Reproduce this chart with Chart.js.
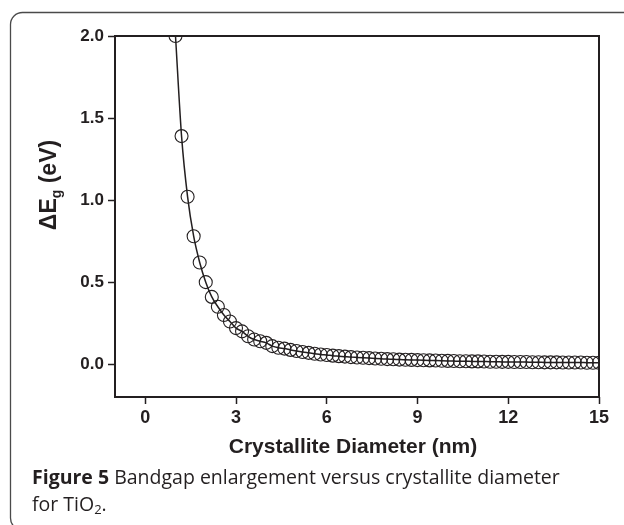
<!DOCTYPE html>
<html><head><meta charset="utf-8">
<script src="https://cdn.jsdelivr.net/npm/chart.js@4.4.0/dist/chart.umd.min.js"></script>
<style>html,body{margin:0;padding:0;background:#fff;} #wrap{width:624px;height:525px;position:relative;}</style>
</head><body><div id="wrap"><canvas id="c" width="624" height="525"></canvas></div>
<script>
// Crystallite diameter (nm)
const diameters = [1.0,1.2,1.4,1.6,1.8,2.0,2.2,2.4,2.6,2.8,3.0,3.2,3.4,3.6,3.8,4.0,4.2,4.4,4.6,4.8,5.0,5.2,5.4,5.6,5.8,6.0,6.2,6.4,6.6,6.8,7.0,7.2,7.4,7.6,7.8,8.0,8.2,8.4,8.6,8.8,9.0,9.2,9.4,9.6,9.8,10.0,10.2,10.4,10.6,10.8,11.0,11.2,11.4,11.6,11.8,12.0,12.2,12.4,12.6,12.8,13.0,13.2,13.4,13.6,13.8,14.0,14.2,14.4,14.6,14.8,15.0];
// Bandgap enlargement ΔEg (eV)
const bandgapShift = [2.00,1.39,1.02,0.78,0.62,0.50,0.41,0.35,0.30,0.26,0.22,0.20,0.17,0.15,0.14,0.13,0.11,0.10,0.095,0.087,0.080,0.074,0.069,0.064,0.059,0.056,0.052,0.049,0.046,0.043,0.041,0.039,0.037,0.035,0.033,0.031,0.030,0.028,0.027,0.026,0.025,0.024,0.023,0.022,0.021,0.020,0.019,0.018,0.018,0.017,0.017,0.016,0.015,0.015,0.014,0.014,0.013,0.013,0.013,0.012,0.012,0.011,0.011,0.011,0.010,0.010,0.010,0.010,0.009,0.009,0.009];
const xTicks = [0,3,6,9,12,15];
const yTicks = [0.0,0.5,1.0,1.5,2.0];
const xTitle = "Crystallite Diameter (nm)";
const yTitleMain = "\u0394E";
const yTitleSub = "g";
const yTitleTail = " (eV)";
const captionBold = "Figure 5";
const captionLine1 = " Bandgap enlargement versus crystallite diameter";
const captionLine2a = "for TiO";
const captionLine2sub = "2";
const captionLine2b = ".";

const INK = '#231f20';
const points = diameters.map((d,i)=>({x:d,y:bandgapShift[i]}));

const decor = {
  id:'decor',
  beforeDraw(chart){
    const ctx = chart.ctx;
    ctx.save();
    ctx.strokeStyle = '#4a4a4a';
    ctx.lineWidth = 1.3;
    const x0=10.5,y0=12.5,x1=700,y1=530,r=12;
    ctx.beginPath();
    ctx.moveTo(x0+r,y0);
    ctx.lineTo(x1,y0);
    ctx.moveTo(x0,y0+r);
    ctx.arcTo(x0,y0,x0+r,y0,r);
    ctx.moveTo(x0,y0+r);
    ctx.lineTo(x0,y1-r);
    ctx.arcTo(x0,y1,x0+r,y1,r);
    ctx.stroke();
    ctx.restore();
  },
  afterDraw(chart){
    const ctx = chart.ctx;
    const a = chart.chartArea;
    ctx.save();
    ctx.strokeStyle = INK;
    ctx.lineWidth = 2;
    ctx.strokeRect(a.left, a.top, a.right-a.left, a.bottom-a.top);
    ctx.fillStyle = INK;
    // x title
    ctx.font = 'bold 21px "Liberation Sans", Arial, sans-serif';
    ctx.textAlign = 'center';
    ctx.textBaseline = 'alphabetic';
    ctx.fillText(xTitle, (a.left+a.right)/2 - 4, 453);
    // y title (rotated)
    ctx.save();
    ctx.translate(56, 185);
    ctx.rotate(-Math.PI/2);
    const fMain = 'bold 23px "Liberation Sans", Arial, sans-serif';
    const fSub = 'bold 14px "Liberation Sans", Arial, sans-serif';
    ctx.font = fMain; const w1 = ctx.measureText(yTitleMain).width; const w3 = ctx.measureText(yTitleTail).width;
    ctx.font = fSub; const w2 = ctx.measureText(yTitleSub).width;
    let sx = -(w1+w2+w3)/2;
    ctx.textAlign = 'left';
    ctx.font = fMain; ctx.fillText(yTitleMain, sx, 0); sx += w1;
    ctx.font = fSub; ctx.fillText(yTitleSub, sx, 5); sx += w2;
    ctx.font = fMain; ctx.fillText(yTitleTail, sx, 0);
    ctx.restore();
    // caption
    const cb = '700 19.5px "Open Sans", sans-serif';
    const cn = '400 19.5px "Open Sans", sans-serif';
    const cs = '400 13px "Open Sans", sans-serif';
    ctx.textAlign = 'left';
    let cx = 32;
    ctx.font = cb; ctx.fillText(captionBold, cx, 484); cx += ctx.measureText(captionBold).width;
    ctx.font = cn; ctx.fillText(captionLine1, cx, 484);
    cx = 32;
    ctx.font = cn; ctx.fillText(captionLine2a, cx, 511); cx += ctx.measureText(captionLine2a).width;
    ctx.font = cs; ctx.fillText(captionLine2sub, cx, 514); cx += ctx.measureText(captionLine2sub).width;
    ctx.font = cn; ctx.fillText(captionLine2b, cx, 511);
    ctx.restore();
  }
};

new Chart(document.getElementById('c'), {
  type:'scatter',
  data:{datasets:[{
    data: points,
    showLine:true,
    borderColor: INK,
    borderWidth: 1.5,
    cubicInterpolationMode:'monotone',
    pointRadius: 6.5,
    pointHoverRadius: 6.5,
    pointBorderWidth: 1.1,
    pointBorderColor: INK,
    pointBackgroundColor: 'rgba(0,0,0,0)',
    clip: 0
  }]},
  options:{
    responsive:false,
    devicePixelRatio:1,
    animation:false,
    events:[],
    layout:{padding:{top:36,right:25,left:0,bottom:0}},
    plugins:{legend:{display:false},tooltip:{enabled:false}},
    scales:{
      x:{
        type:'linear', min:-1, max:15,
        afterBuildTicks(s){ s.ticks = xTicks.map(v=>({value:v})); },
        afterFit(s){ s.height = 128; },
        grid:{drawOnChartArea:false, drawTicks:true, tickLength:7, tickColor:INK, tickWidth:1.5},
        border:{display:false},
        ticks:{color:INK, padding:3, maxRotation:0, font:{family:'"Liberation Sans", Arial, sans-serif', size:18, weight:'bold'}, callback:v=>String(v)}
      },
      y:{
        type:'linear', min:-0.2, max:2.0,
        afterBuildTicks(s){ s.ticks = yTicks.map(v=>({value:v})); },
        afterFit(s){ s.width = 115; },
        grid:{drawOnChartArea:false, drawTicks:true, tickLength:7, tickColor:INK, tickWidth:1.5},
        border:{display:false},
        ticks:{color:INK, padding:4, font:{family:'"Liberation Sans", Arial, sans-serif', size:17, weight:'bold'}, callback:v=>Number(v).toFixed(1)}
      }
    }
  },
  plugins:[decor]
});
</script>
</body></html>
